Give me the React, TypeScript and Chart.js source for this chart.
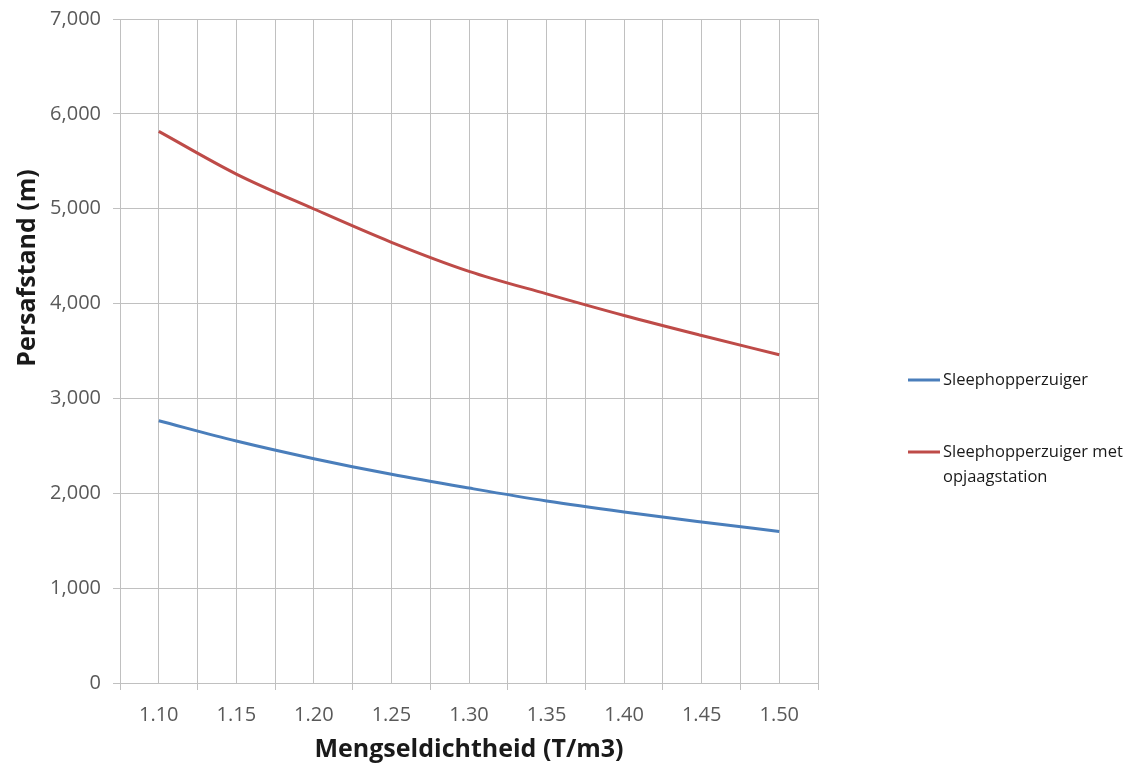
import React, { useEffect, useRef } from 'react';
import { Chart, registerables } from 'chart.js';

Chart.register(...registerables);

const densities = [1.1, 1.15, 1.2, 1.25, 1.3, 1.35, 1.4, 1.45, 1.5];
const sleephopperzuiger = [2765, 2551, 2365, 2200, 2055, 1919, 1803, 1698, 1598];
const metOpjaagstation = [5815, 5365, 4997, 4646, 4340, 4102, 3874, 3663, 3460];
const seriesLabels = ['Sleephopperzuiger', 'Sleephopperzuiger met opjaagstation'];
const seriesColors = ['#4a7ebb', '#be4b48'];
const xTitle = 'Mengseldichtheid (T/m3)';
const yTitle = 'Persafstand (m)';
const yMin = 0;
const yMax = 7000;
const yStep = 1000;
const halfStep = 0.025;

const FONT = "'Open Sans', 'DejaVu Sans', sans-serif";
const GRID = '#c0c0c0';
const TICK_TEXT = '#595959';
const TITLE_COLOR = '#1a1a1a';

const isCenter = (v: number) => densities.some((d) => Math.abs(d - v) < 1e-6);

const yTitlePlugin = {
  id: 'yTitle',
  afterDraw(chart: any) {
    const ctx = chart.ctx;
    const area = chart.chartArea;
    ctx.save();
    ctx.font = `bold 25px ${FONT}`;
    ctx.fillStyle = TITLE_COLOR;
    ctx.textAlign = 'center';
    ctx.textBaseline = 'middle';
    ctx.translate(28, area.top + 249);
    ctx.rotate(-Math.PI / 2);
    ctx.fillText(yTitle, 0, 0);
    ctx.restore();
  },
};

const legendPlugin = {
  id: 'sideLegend',
  afterDraw(chart: any) {
    const ctx = chart.ctx;
    const area = chart.chartArea;
    const x0 = area.right + 90;
    const lineLen = 32;
    const maxW = 200;
    const fontSize = 16.5;
    const lineH = 25;
    const starts = [area.top + 361, area.top + 433];
    ctx.save();
    ctx.font = `${fontSize}px ${FONT}`;
    ctx.textBaseline = 'middle';
    ctx.textAlign = 'left';
    chart.data.datasets.forEach((ds: any, i: number) => {
      const y = starts[i];
      ctx.strokeStyle = ds.borderColor;
      ctx.lineWidth = 3;
      ctx.beginPath();
      ctx.moveTo(x0, y);
      ctx.lineTo(x0 + lineLen, y);
      ctx.stroke();
      const words = String(ds.label).split(' ');
      const lines: string[] = [];
      let cur = '';
      words.forEach((w) => {
        const t = cur ? cur + ' ' + w : w;
        if (ctx.measureText(t).width > maxW && cur) {
          lines.push(cur);
          cur = w;
        } else cur = t;
      });
      if (cur) lines.push(cur);
      ctx.fillStyle = TITLE_COLOR;
      lines.forEach((ln, j) => ctx.fillText(ln, x0 + lineLen + 3, y + j * lineH));
    });
    ctx.restore();
  },
};

export default function App() {
  const ref = useRef<HTMLCanvasElement | null>(null);
  useEffect(() => {
    document.body.style.margin = '0';
    if (!ref.current) return;
    const gridValues: number[] = [];
    densities.forEach((d, i) => {
      if (i === 0) gridValues.push(+(d - halfStep).toFixed(3));
      gridValues.push(d);
      gridValues.push(+(d + halfStep).toFixed(3));
    });
    const chart = new Chart(ref.current, {
      type: 'line',
      data: {
        datasets: [
          {
            label: seriesLabels[0],
            data: densities.map((x, i) => ({ x, y: sleephopperzuiger[i] })),
            borderColor: seriesColors[0],
            backgroundColor: seriesColors[0],
            borderWidth: 3,
            pointRadius: 0,
            cubicInterpolationMode: 'monotone',
          },
          {
            label: seriesLabels[1],
            data: densities.map((x, i) => ({ x, y: metOpjaagstation[i] })),
            borderColor: seriesColors[1],
            backgroundColor: seriesColors[1],
            borderWidth: 3,
            pointRadius: 0,
            cubicInterpolationMode: 'monotone',
          },
        ],
      },
      options: {
        animation: false,
        responsive: true,
        maintainAspectRatio: false,
        layout: { padding: { top: 19, right: 324, bottom: 0, left: 0 } },
        plugins: { legend: { display: false }, tooltip: { enabled: false } },
        scales: {
          x: {
            type: 'linear',
            min: gridValues[0],
            max: gridValues[gridValues.length - 1],
            afterBuildTicks: (scale: any) => {
              scale.ticks = gridValues.map((v) => ({ value: v }));
            },
            afterFit: (scale: any) => {
              scale.height = 82;
              scale.paddingLeft = 0;
              scale.paddingRight = 0;
            },
            grid: {
              color: GRID,
              lineWidth: 1,
              tickLength: 7,
              tickColor: (c: any) => (c.tick && isCenter(c.tick.value) ? 'rgba(0,0,0,0)' : GRID),
            },
            border: { color: GRID, width: 1 },
            ticks: {
              autoSkip: false,
              maxRotation: 0,
              padding: 13,
              color: TICK_TEXT,
              font: { family: FONT, size: 20 },
              callback: (v: any) => (isCenter(Number(v)) ? Number(v).toFixed(2) : ''),
            },
            title: {
              display: true,
              text: xTitle,
              color: TITLE_COLOR,
              font: { family: FONT, size: 25, weight: 'bold' },
              padding: { top: 0, bottom: 0 },
            },
          },
          y: {
            min: yMin,
            max: yMax,
            afterFit: (scale: any) => {
              scale.width = 120;
              scale.paddingTop = 0;
              scale.paddingBottom = 0;
            },
            grid: { color: GRID, lineWidth: 1, tickLength: 7, tickColor: GRID },
            border: { color: GRID, width: 1 },
            ticks: {
              stepSize: yStep,
              padding: 12,
              color: TICK_TEXT,
              font: { family: FONT, size: 20 },
              callback: (v: any) => Number(v).toLocaleString('en-US'),
            },
            title: { display: false },
          },
        },
      },
      plugins: [yTitlePlugin, legendPlugin],
    } as any);
    return () => chart.destroy();
  }, []);
  return (
    <div style={{ width: 1142, height: 765, position: 'relative', background: '#fff' }}>
      <canvas ref={ref} />
    </div>
  );
}
